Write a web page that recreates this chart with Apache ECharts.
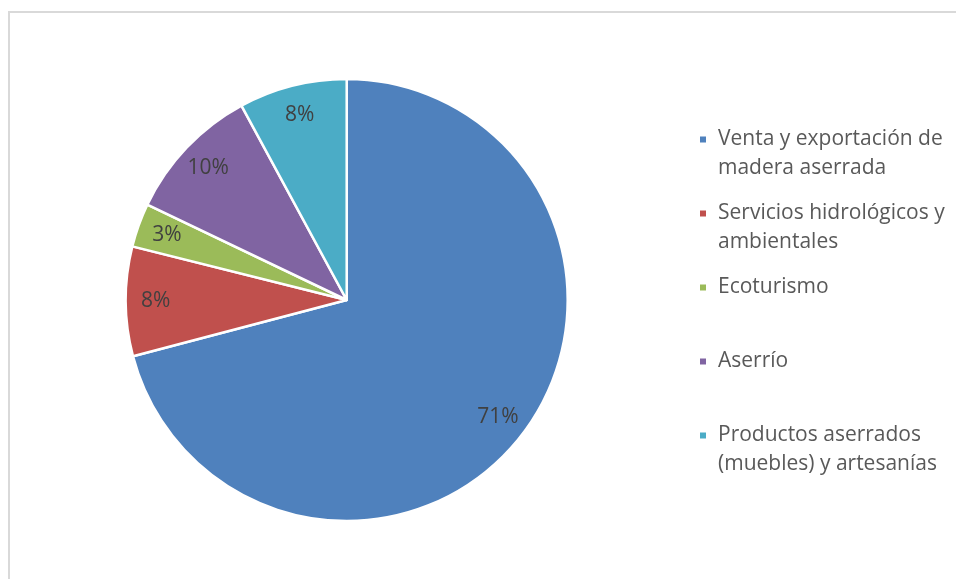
<!DOCTYPE html>
<html>
<head>
<meta charset="utf-8">
<script src="https://cdn.jsdelivr.net/npm/echarts@6/dist/echarts.min.js"></script>
<style>
html,body{margin:0;padding:0;background:#fff;}
#frame{position:absolute;left:8px;top:11px;width:960px;height:600px;border:2px solid #d9d9d9;box-sizing:border-box;}
#chart{position:absolute;left:0;top:0;width:956px;height:579px;}
</style>
</head>
<body>
<div id="frame"></div>
<div id="chart"></div>
<script>
const categories = [
  "Venta y exportación de madera aserrada",
  "Servicios hidrológicos y ambientales",
  "Ecoturismo",
  "Aserrío",
  "Productos aserrados (muebles) y artesanías"
];
const legendLabels = [
  "Venta y exportación de\nmadera aserrada",
  "Servicios hidrológicos y\nambientales",
  "Ecoturismo",
  "Aserrío",
  "Productos aserrados\n(muebles) y artesanías"
];
const values = [70.9, 8.0, 3.2, 10.0, 7.9];
const colors = ["#4f81bd", "#c0504d", "#9bbb59", "#8064a2", "#4bacc6"];

const FONT = "Open Sans";
const data = categories.map((c, i) => ({ name: c, value: values[i], itemStyle: { color: colors[i] } }));
const labelData = categories.map((c, i) => ({ name: c, value: values[i] }));

// first text line is kept level with the legend marker
function legendText(name) {
  const t = legendLabels[categories.indexOf(name)];
  return '\n' + t + (t.indexOf('\n') >= 0 ? '' : '\n');
}

const chart = echarts.init(document.getElementById('chart'), null, { renderer: 'canvas' });
chart.setOption({
  animation: false,
  backgroundColor: 'transparent',
  legend: {
    orient: 'vertical',
    left: 698,
    top: 96,
    padding: 0,
    itemWidth: 8,
    itemHeight: 8,
    itemGap: -13,
    icon: 'rect',
    selectedMode: false,
    data: categories,
    formatter: legendText,
    textStyle: { fontFamily: FONT, fontSize: 21, color: '#595959', lineHeight: 29, padding: [0, 0, 0, 6] }
  },
  series: [
    {
      type: 'pie',
      center: [346.7, 300],
      radius: [0, 221],
      startAngle: 90,
      clockwise: true,
      silent: true,
      label: { show: false },
      labelLine: { show: false },
      itemStyle: { borderColor: '#ffffff', borderWidth: 2.5 },
      data: data
    },
    {
      type: 'pie',
      center: [346.7, 300],
      radius: [155, 221],
      startAngle: 90,
      clockwise: true,
      silent: true,
      legendHoverLink: false,
      itemStyle: { color: 'rgba(0,0,0,0)' },
      label: {
        show: true,
        position: 'inside',
        formatter: function (p) { return Math.round(p.percent) + '%'; },
        fontFamily: FONT,
        fontSize: 21,
        color: '#404040'
      },
      labelLine: { show: false },
      data: labelData
    }
  ]
});
</script>
</body>
</html>
